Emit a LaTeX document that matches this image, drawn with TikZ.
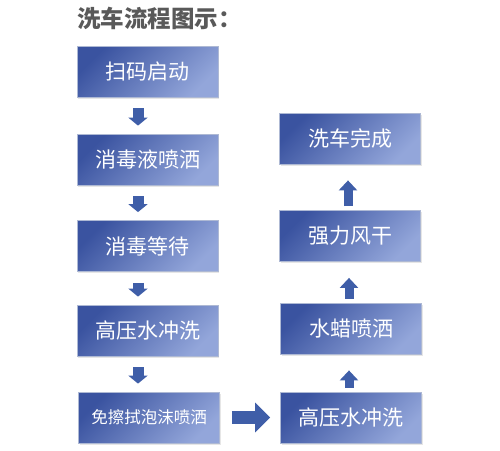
\documentclass[tikz,border=0pt]{standalone}
\usepackage{fontspec}
\newfontfamily\cjk{Noto Sans CJK SC}
\usetikzlibrary{arrows.meta,shadows}
\definecolor{boxdark}{HTML}{3A53A0}
\definecolor{boxlight}{HTML}{93A6DA}
\definecolor{boxline}{HTML}{AEB9D4}
\definecolor{arrowblue}{HTML}{3F5EA8}
\definecolor{titlegray}{HTML}{595959}

\begin{document}
\begin{tikzpicture}[x=1pt, y=-1pt,
    stepbox/.style={draw=boxline, line width=0.8pt, top color=boxdark, bottom color=boxlight, shading angle=45,
      minimum width=141pt, minimum height=51pt, inner sep=0pt, text=white,
      font=\cjk\fontsize{21}{21}\selectfont,
      drop shadow={opacity=0.2, shadow xshift=1pt, shadow yshift=-1.5pt}},
    downarrow/.style={arrowblue, line width=11pt, -{Triangle[width=19pt,length=8pt]}, shorten <=11pt, shorten >=8pt},
    uparrow/.style={arrowblue, line width=9pt, -{Triangle[width=18pt,length=10pt]}, shorten <=4pt, shorten >=16pt},
    bigarrow/.style={arrowblue, line width=13pt, -{Triangle[width=29pt,length=15pt]}, shorten <=12pt, shorten >=10pt}]

    \useasboundingbox (0,0) rectangle (500,450);

    \node[anchor=west, inner sep=0pt, text=titlegray, font=\cjk\bfseries\fontsize{23.5}{23.5}\selectfont] (T) at (77,18) {洗车流程图示：};

    \node[stepbox] (A) at (147.5,71.5) {扫码启动};
    \node[stepbox] (B) at (147.5,159.5) {消毒液喷洒};
    \node[stepbox] (C) at (147.5,246) {消毒等待};
    \node[stepbox] (D) at (147.5,330.5) {高压水冲洗};
    \node[stepbox, font=\cjk\fontsize{16.5}{16.5}\selectfont] (E) at (149,417.5) {免擦拭泡沫喷洒};

    \node[stepbox] (I) at (351,417.5) {高压水冲洗};
    \node[stepbox] (H) at (351,328.5) {水蜡喷洒};
    \node[stepbox] (G) at (350,236) {强力风干};
    \node[stepbox] (F) at (350,138.5) {洗车完成};

    \draw[downarrow] ([xshift=-9.5pt]A.south) -- ([xshift=-9.5pt]B.north);
    \draw[downarrow] ([xshift=-9.5pt]B.south) -- ([xshift=-9.5pt]C.north);
    \draw[downarrow] ([xshift=-9.5pt]C.south) -- ([xshift=-9.5pt]D.north);
    \draw[downarrow] ([xshift=-9.5pt]D.south) -- ([xshift=-9.5pt]D.south |- E.north);

    \draw[bigarrow] (E.east) -- (I.west);

    \draw[uparrow] ([xshift=-2pt]I.north) -- ([xshift=-2pt]I.north |- H.south);
    \draw[uparrow] ([xshift=-2pt]H.north) -- ([xshift=-1pt]G.south);
    \draw[uparrow] ([xshift=-2pt]G.north) -- ([xshift=-2pt]F.south);

\end{tikzpicture}
\end{document}
